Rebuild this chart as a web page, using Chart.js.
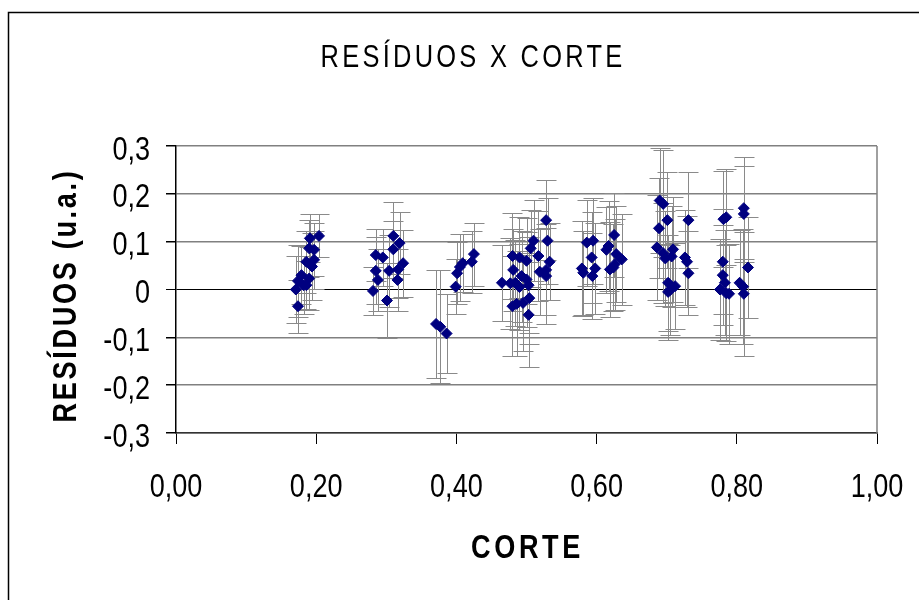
<!DOCTYPE html>
<html>
<head>
<meta charset="utf-8">
<script src="https://cdn.jsdelivr.net/npm/chart.js@4/dist/chart.umd.min.js"></script>
<style>
  html, body { margin: 0; padding: 0; background: #fff; }
  #wrap { width: 919px; height: 600px; position: relative; }
</style>
</head>
<body>
<div id="wrap"><canvas id="c" width="919" height="600"></canvas></div>
<script>
// ---- Data ----
const chartTitle = "RESÍDUOS X CORTE";
const xTitle = "CORTE";
const yTitle = "RESÍDUOS (u.a.)";
const xTicks = [0, 0.2, 0.4, 0.6, 0.8, 1.0];
const yTicks = [-0.3, -0.2, -0.1, 0, 0.1, 0.2, 0.3];
const xTickLabels = ["0,00", "0,20", "0,40", "0,60", "0,80", "1,00"];
const yTickLabels = ["-0,3", "-0,2", "-0,1", "0", "0,1", "0,2", "0,3"];

const corte = [
  0.191, 0.204, 0.190, 0.197, 0.186, 0.197, 0.194, 0.179, 0.174, 0.171, 0.182, 0.190, 0.186, 0.174,
  0.285, 0.295, 0.310, 0.319, 0.310, 0.285, 0.288, 0.304, 0.317, 0.324, 0.316, 0.281, 0.301,
  0.371, 0.377, 0.386,
  0.399, 0.401, 0.405, 0.409, 0.422, 0.425,
  0.528, 0.530, 0.510, 0.506, 0.517, 0.480, 0.490, 0.500, 0.533, 0.528, 0.519, 0.528, 0.481,
  0.493, 0.500, 0.484, 0.465, 0.477, 0.503, 0.490, 0.486, 0.495, 0.504, 0.503, 0.480,
  0.586, 0.595, 0.593, 0.579, 0.581, 0.598, 0.594, 0.625, 0.617, 0.614, 0.628, 0.636, 0.624, 0.626, 0.619,
  0.690, 0.695, 0.689, 0.701, 0.731, 0.686, 0.695, 0.698, 0.709, 0.707, 0.726, 0.729, 0.731, 0.702, 0.705, 0.712, 0.702,
  0.781, 0.785, 0.780, 0.780, 0.783, 0.776, 0.785, 0.789, 0.810, 0.810, 0.816, 0.804, 0.809, 0.810
];
const residuos = [
  0.107, 0.112, 0.086, 0.083, 0.058, 0.062, 0.048, 0.030, 0.018, 0.000, 0.009, 0.023, 0.009, -0.035,
  0.072, 0.067, 0.112, 0.097, 0.084, 0.039, 0.020, 0.039, 0.042, 0.055, 0.020, -0.003, -0.023,
  -0.072, -0.078, -0.092,
  0.006, 0.034, 0.047, 0.055, 0.058, 0.074,
  0.145, 0.102, 0.102, 0.086, 0.070, 0.070, 0.067, 0.060, 0.058, 0.041, 0.037, 0.028, 0.041,
  0.028, 0.021, 0.014, 0.014, 0.013, 0.009, 0.005, -0.030, -0.028, -0.018, -0.053, -0.035,
  0.098, 0.102, 0.067, 0.044, 0.035, 0.044, 0.028, 0.114, 0.091, 0.083, 0.074, 0.063, 0.046, 0.053, 0.042,
  0.186, 0.179, 0.128, 0.145, 0.145, 0.088, 0.076, 0.065, 0.084, 0.069, 0.067, 0.058, 0.034, 0.014, -0.001, 0.007, -0.005,
  0.147, 0.151, 0.058, 0.030, 0.014, 0.000, -0.008, -0.009, 0.170, 0.158, 0.046, 0.014, 0.006, -0.009
];
const erro = [
  0.050, 0.045, 0.060, 0.055, 0.065, 0.060, 0.070, 0.060, 0.075, 0.070, 0.060, 0.065, 0.050, 0.055,
  0.055, 0.060, 0.070, 0.065, 0.060, 0.070, 0.065, 0.075, 0.060, 0.070, 0.065, 0.050, 0.078,
  0.112, 0.118, 0.083,
  0.058, 0.065, 0.070, 0.060, 0.065, 0.066,
  0.084, 0.090, 0.085, 0.080, 0.095, 0.090, 0.085, 0.090, 0.080, 0.095, 0.090, 0.100, 0.085,
  0.095, 0.100, 0.090, 0.080, 0.095, 0.100, 0.090, 0.110, 0.100, 0.095, 0.110, 0.105,
  0.090, 0.090, 0.095, 0.100, 0.088, 0.095, 0.090, 0.088, 0.095, 0.090, 0.100, 0.095, 0.090, 0.095, 0.100,
  0.110, 0.112, 0.105, 0.100, 0.100, 0.110, 0.105, 0.100, 0.110, 0.105, 0.100, 0.095, 0.088, 0.100, 0.095, 0.090, 0.100,
  0.100, 0.100, 0.110, 0.105, 0.110, 0.105, 0.100, 0.105, 0.107, 0.100, 0.105, 0.110, 0.120, 0.130
];

// ---- Build data for the library ----
const points = corte.map((x, i) => ({ x: x, y: residuos[i] }));

const FONT = '"Liberation Sans", Arial, sans-serif';
const NARROW_SCALE = 0.82;

function narrowText(ctx, text, x, y, align, font, spacing, rotate) {
  ctx.save();
  ctx.font = font;
  if ('letterSpacing' in ctx) ctx.letterSpacing = (spacing || 0) + 'px';
  ctx.textAlign = align;
  ctx.textBaseline = 'alphabetic';
  ctx.fillStyle = '#000';
  ctx.translate(x, y);
  if (rotate) ctx.rotate(rotate);
  ctx.scale(NARROW_SCALE, 1);
  ctx.fillText(text, 0, 0);
  ctx.restore();
}

const frame = {
  id: 'frame',
  beforeDraw(chart) {
    const ctx = chart.ctx;
    ctx.save();
    ctx.fillStyle = '#fff';
    ctx.fillRect(0, 0, chart.width, chart.height);
    ctx.strokeStyle = '#000';
    ctx.lineWidth = 1.5;
    ctx.strokeRect(8.5, 12.5, 2000, 2000);
    ctx.restore();
  },
  afterDraw(chart) {
    const ctx = chart.ctx;
    const a = chart.chartArea;
    const xs = chart.scales.x, ys = chart.scales.y;
    ctx.save();
    // right border of plot area
    ctx.strokeStyle = '#808080';
    ctx.lineWidth = 1.5;
    ctx.beginPath();
    ctx.moveTo(a.right, a.top);
    ctx.lineTo(a.right, a.bottom);
    ctx.stroke();
    ctx.restore();

    // tick labels (positioned by the library's scales)
    xTicks.forEach((v, i) => {
      narrowText(ctx, xTickLabels[i], xs.getPixelForValue(v), 497, 'center', '33px ' + FONT, 0);
    });
    yTicks.forEach((v, i) => {
      narrowText(ctx, yTickLabels[i], 150, ys.getPixelForValue(v) + 13.5, 'right', '33px ' + FONT, 0);
    });

    // titles
    narrowText(ctx, chartTitle, 473, 67, 'center', '31px ' + FONT, 4);
    narrowText(ctx, xTitle, (a.left + a.right) / 2 + 1, 558, 'center', 'bold 33px ' + FONT, 4.5);
    narrowText(ctx, yTitle, 76, (a.top + a.bottom) / 2 + 6, 'center', 'bold 33px ' + FONT, 3.3, -Math.PI / 2);
  }
};

const errorBars = {
  id: 'errorBars',
  beforeDatasetsDraw(chart) {
    const ctx = chart.ctx;
    const xs = chart.scales.x, ys = chart.scales.y;
    ctx.save();
    ctx.strokeStyle = '#8a8a8a';
    ctx.lineWidth = 1;
    ctx.beginPath();
    for (let i = 0; i < corte.length; i++) {
      const px = Math.round(xs.getPixelForValue(corte[i])) + 0.5;
      const top = Math.round(ys.getPixelForValue(residuos[i] + erro[i])) + 0.5;
      const bot = Math.round(ys.getPixelForValue(residuos[i] - erro[i])) + 0.5;
      ctx.moveTo(px, top); ctx.lineTo(px, bot);
      ctx.moveTo(px - 10, top); ctx.lineTo(px + 10, top);
      ctx.moveTo(px - 10, bot); ctx.lineTo(px + 10, bot);
    }
    ctx.stroke();
    ctx.restore();
  }
};

new Chart(document.getElementById('c'), {
  type: 'scatter',
  data: {
    datasets: [{
      data: points,
      pointStyle: 'rectRot',
      radius: 5.5,
      hoverRadius: 5.5,
      backgroundColor: '#000080',
      borderColor: '#000080',
      borderWidth: 1
    }]
  },
  options: {
    responsive: false,
    animation: false,
    events: [],
    layout: { padding: { top: 146, right: 42, left: 0, bottom: 0 } },
    plugins: { legend: { display: false }, tooltip: { enabled: false }, title: { display: false } },
    scales: {
      x: {
        type: 'linear',
        min: xTicks[0],
        max: xTicks[xTicks.length - 1],
        afterBuildTicks: (s) => { s.ticks = xTicks.map(v => ({ value: v })); },
        afterFit: (s) => { s.height = 600 - 433; s.paddingLeft = 0; s.paddingRight = 0; },
        ticks: { display: false },
        grid: { drawOnChartArea: false, drawTicks: true, tickLength: 11, tickColor: '#000', color: '#000' },
        border: { display: true, color: '#333', width: 1.5 }
      },
      y: {
        type: 'linear',
        min: yTicks[0],
        max: yTicks[yTicks.length - 1],
        afterBuildTicks: (s) => { s.ticks = yTicks.map(v => ({ value: v })); },
        afterFit: (s) => { s.width = 176; s.paddingTop = 0; s.paddingBottom = 0; },
        ticks: { display: false },
        grid: {
          drawOnChartArea: true,
          tickLength: 10,
          tickColor: '#000',
          lineWidth: (c) => (c.tick && Math.abs(c.tick.value) < 1e-9) ? 1 : 1.5,
          color: (c) => (c.tick && Math.abs(c.tick.value) < 1e-9) ? '#000' : '#808080'
        },
        border: { display: true, color: '#000', width: 1.5 }
      }
    }
  },
  plugins: [frame, errorBars]
});
</script>
</body>
</html>
